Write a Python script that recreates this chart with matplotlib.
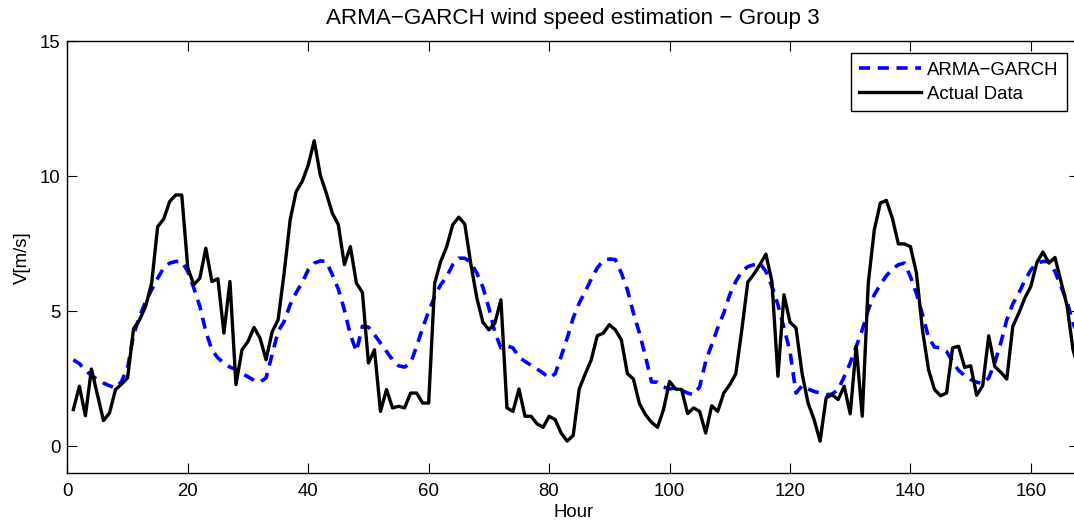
"""ARMA-GARCH wind speed estimation vs actual data, group 3 (one week, hourly)."""

import matplotlib

matplotlib.use("Agg")
import matplotlib.pyplot as plt  # noqa: E402

# hourly wind speed, hours 1..168
hours = list(range(1, 169))

actual = [
    1.36, 2.22, 1.13, 2.86, 1.90, 0.95, 1.23, 2.10, 2.30, 2.53,
    4.35, 4.68, 5.18, 6.04, 8.13, 8.41, 9.06, 9.30, 9.30, 6.60,
    5.98, 6.22, 7.33, 6.10, 6.20, 4.19, 6.10, 2.28, 3.57, 3.88,
    4.40, 4.00, 3.20, 4.23, 4.68, 6.41, 8.38, 9.43, 9.80, 10.41,
    11.31, 10.04, 9.37, 8.63, 8.20, 6.72, 7.39, 6.04, 5.69, 3.08,
    3.57, 1.29, 2.10, 1.42, 1.48, 1.42, 1.97, 1.97, 1.60, 1.60,
    6.04, 6.84, 7.39, 8.20, 8.48, 8.22, 6.75, 5.49, 4.59, 4.31,
    4.56, 5.42, 1.42, 1.29, 2.12, 1.11, 1.11, 0.83, 0.70, 1.11,
    0.99, 0.49, 0.19, 0.40, 2.12, 2.68, 3.20, 4.09, 4.19, 4.50,
    4.31, 3.94, 2.69, 2.49, 1.58, 1.17, 0.89, 0.70, 1.36, 2.40,
    2.12, 2.10, 1.21, 1.42, 1.29, 0.49, 1.50, 1.29, 1.97, 2.28,
    2.68, 4.31, 6.08, 6.37, 6.72, 7.11, 6.10, 2.59, 5.61, 4.59,
    4.38, 2.71, 1.60, 0.99, 0.19, 1.79, 1.91, 1.73, 2.22, 1.20,
    3.70, 1.11, 6.04, 8.01, 9.00, 9.10, 8.44, 7.49, 7.49, 7.39,
    6.41, 4.31, 2.84, 2.10, 1.87, 1.97, 3.64, 3.70, 2.92, 2.98,
    1.89, 2.24, 4.09, 2.96, 2.74, 2.49, 4.44, 4.93, 5.49, 5.92,
    6.80, 7.19, 6.78, 6.99, 6.10, 5.21, 3.57, 2.80,
]

arma_garch = [
    3.20, 3.06, 2.81, 2.62, 2.47, 2.34, 2.24, 2.16, 2.40, 2.90,
    4.13, 4.80, 5.36, 5.79, 6.22, 6.60, 6.78, 6.84, 6.84, 6.47,
    5.86, 5.18, 4.25, 3.57, 3.27, 3.08, 2.93, 2.84, 2.69, 2.57,
    2.44, 2.38, 2.53, 3.39, 4.25, 4.62, 5.24, 5.69, 6.06, 6.53,
    6.78, 6.86, 6.84, 6.35, 5.82, 5.05, 4.13, 3.51, 4.44, 4.41,
    4.13, 3.82, 3.51, 3.20, 2.98, 2.93, 3.08, 3.70, 4.38, 4.99,
    5.55, 5.98, 6.28, 6.72, 6.96, 6.96, 6.80, 6.41, 5.89, 5.12,
    4.21, 3.64, 3.72, 3.64, 3.30, 3.14, 3.00, 2.86, 2.71, 2.53,
    2.68, 3.33, 4.00, 4.75, 5.30, 5.73, 6.19, 6.60, 6.88, 6.93,
    6.91, 6.41, 5.79, 4.93, 4.19, 3.33, 2.38, 2.37, 2.20, 2.12,
    2.16, 2.07, 1.97, 1.91, 2.20, 3.14, 3.76, 4.38, 4.93, 5.61,
    6.10, 6.47, 6.65, 6.72, 6.78, 6.47, 5.92, 5.24, 4.38, 3.51,
    1.97, 2.24, 2.12, 2.03, 1.97, 1.91, 1.93, 2.10, 2.57, 3.08,
    3.70, 4.31, 5.05, 5.61, 5.98, 6.31, 6.56, 6.72, 6.78, 6.28,
    5.65, 4.87, 4.04, 3.67, 3.64, 3.51, 3.14, 2.81, 2.62, 2.47,
    2.37, 2.32, 2.53, 3.08, 3.82, 4.68, 5.27, 5.67, 6.14, 6.53,
    6.78, 6.84, 6.84, 6.47, 5.92, 5.36, 4.56, 4.00,
]

x_ticks = [0, 20, 40, 60, 80, 100, 120, 140, 160]
y_ticks = [0, 5, 10, 15]

plt.rcParams.update({
    "font.family": ["Liberation Sans", "DejaVu Sans"],
    "font.size": 13.4,
    "axes.linewidth": 1.0,
    "xtick.direction": "in",
    "ytick.direction": "in",
    "xtick.major.size": 7,
    "ytick.major.size": 7,
    "xtick.top": True,
    "ytick.right": True,
    "lines.scale_dashes": False,
})

fig = plt.figure(figsize=(10.74, 5.25), dpi=100)
# axes runs slightly past the right edge of the figure, as in the original export
ax = fig.add_axes([0.0627, 0.0985, 0.942, 0.8234])

ax.plot(hours, arma_garch, color="#0000ff", lw=2.6, dashes=(8.0, 5.5),
        label="ARMA\u2212GARCH")
ax.plot(hours, actual, color="black", lw=2.4, label="Actual Data")

ax.set_xlim(0, 168)
ax.set_ylim(-1, 15)
ax.set_xticks(x_ticks)
ax.set_yticks(y_ticks)
ax.tick_params(axis="x", pad=7)
ax.tick_params(axis="y", pad=5)
ax.set_xlabel("Hour", labelpad=3)
ax.set_ylabel("V[m/s]", labelpad=6)
ax.set_title("ARMA\u2212GARCH wind speed estimation \u2212 Group 3", pad=12)

leg = ax.legend(loc="upper right", fancybox=False, framealpha=1,
                edgecolor="black", borderaxespad=0.65, handlelength=3.3,
                handletextpad=0.35, borderpad=0.45, labelspacing=0.4)
leg.get_frame().set_linewidth(1.0)

fig.savefig("out.png", dpi=100)
plt.close(fig)
